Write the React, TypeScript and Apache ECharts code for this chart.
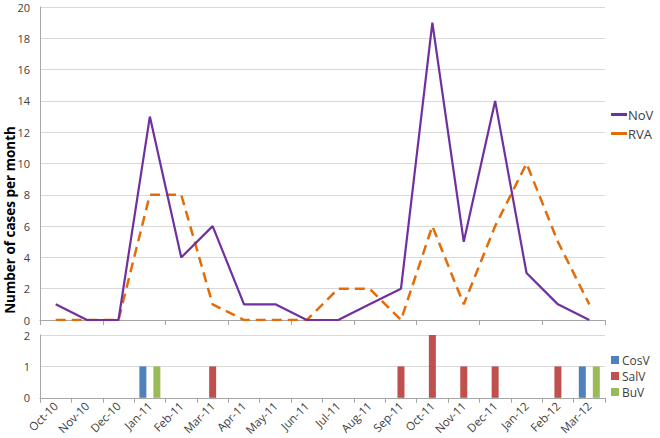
import React, { useEffect, useRef } from "react";
import * as echarts from "echarts";

const months = ["Oct-10","Nov-10","Dec-10","Jan-11","Feb-11","Mar-11","Apr-11","May-11","Jun-11","Jul-11","Aug-11","Sep-11","Oct-11","Nov-11","Dec-11","Jan-12","Feb-12","Mar-12"];
const nov = [1,0,0,13,4,6,1,1,0,0,1,2,19,5,14,3,1,0];
const rva = [0,0,0,8,8,1,0,0,0,2,2,0,6,1,6,10,5,1];
const cosv = [0,0,0,1,0,0,0,0,0,0,0,0,0,0,0,0,0,1];
const salv = [0,0,0,0,0,1,0,0,0,0,0,1,2,1,1,0,1,0];
const buv = [0,0,0,1,0,0,0,0,0,0,0,0,0,0,0,0,0,1];

const FONT = "Open Sans";

export default function App() {
  const ref = useRef<HTMLDivElement>(null);
  useEffect(() => {
    const chart = echarts.init(ref.current!, null, { renderer: "svg" });
    const axisLine = { show: true, lineStyle: { color: "#a6a6a6", width: 1 } };
    const labelStyle = { color: "#404040", fontFamily: FONT, fontSize: 11 };
    chart.setOption({
      animation: false,
      backgroundColor: "#fff",
      textStyle: { fontFamily: FONT },
      grid: [
        { left: 40, right: 55, top: 7, height: 313, containLabel: false },
        { left: 40, right: 55, top: 335, height: 63, containLabel: false },
      ],
      xAxis: [
        {
          type: "category", gridIndex: 0, data: months, boundaryGap: true,
          axisLine, axisTick: { show: true, length: 5, inside: false, lineStyle: { color: "#a6a6a6" } },
          axisLabel: { show: false }, splitLine: { show: false },
        },
        {
          type: "category", gridIndex: 1, data: months, boundaryGap: true,
          axisLine, axisTick: { show: true, length: 5, lineStyle: { color: "#a6a6a6" } },
          axisLabel: { ...labelStyle, fontSize: 11.5, rotate: 45, interval: 0, margin: 6 },
          splitLine: { show: false },
        },
      ],
      yAxis: [
        {
          type: "value", gridIndex: 0, min: 0, max: 20, interval: 2,
          axisLine, axisTick: { show: false },
          axisLabel: { ...labelStyle, margin: 10 },
          splitLine: { show: true, lineStyle: { color: "#d9d9d9" } },
        },
        {
          type: "value", gridIndex: 1, min: 0, max: 2, interval: 1,
          axisLine, axisTick: { show: false },
          axisLabel: { ...labelStyle, margin: 10 },
          splitLine: { show: true, lineStyle: { color: "#d9d9d9" } },
        },
      ],
      legend: [
        {
          data: [
            { name: "NoV", icon: "rect", itemStyle: { color: "#7030A0" } },
            { name: "RVA", icon: "rect", itemStyle: { color: "#E36C09" } },
          ],
          orient: "vertical", left: 606, top: 102,
          itemWidth: 16, itemHeight: 3, itemGap: 4,
          textStyle: { fontFamily: FONT, fontSize: 13, lineHeight: 15, color: "#404040", padding: [0, 0, 0, -4] },
        },
        {
          data: ["CosV", "SalV", "BuV"], orient: "vertical", left: 606, top: 348,
          icon: "rect", itemWidth: 8, itemHeight: 8, itemGap: 2,
          textStyle: { fontFamily: FONT, fontSize: 12, lineHeight: 14, color: "#404040", padding: [0, 0, 0, -2] },
        },
      ],
      series: [
        {
          name: "NoV", type: "line", xAxisIndex: 0, yAxisIndex: 0, data: nov,
          symbol: "none", lineStyle: { color: "#7030A0", width: 2.2 }, itemStyle: { color: "#7030A0" },
          z: 3,
        },
        {
          name: "RVA", type: "line", xAxisIndex: 0, yAxisIndex: 0, data: rva,
          symbol: "none", lineStyle: { color: "#E36C09", width: 2.5, type: [10, 6] }, itemStyle: { color: "#E36C09" },
          z: 2,
        },
        {
          name: "CosV", type: "bar", xAxisIndex: 1, yAxisIndex: 1, data: cosv,
          itemStyle: { color: "#4F81BD" }, barWidth: 7, barGap: "0%",
        },
        {
          name: "SalV", type: "bar", xAxisIndex: 1, yAxisIndex: 1, data: salv,
          itemStyle: { color: "#C0504D" }, barWidth: 7, barGap: "0%",
        },
        {
          name: "BuV", type: "bar", xAxisIndex: 1, yAxisIndex: 1, data: buv,
          itemStyle: { color: "#9BBB59" }, barWidth: 7, barGap: "0%",
        },
      ],
      graphic: [
        {
          type: "text", x: 10, y: 220, rotation: Math.PI / 2,
          style: {
            text: "Number of cases per month", fontFamily: FONT, fontSize: 13.5, fontWeight: "bold",
            fill: "#000", align: "center", verticalAlign: "middle",
          },
        },
      ],
    });
    return () => chart.dispose();
  }, []);
  return <div ref={ref} style={{ width: 660, height: 438, position: "absolute", left: 0, top: 0 }} />;
}
